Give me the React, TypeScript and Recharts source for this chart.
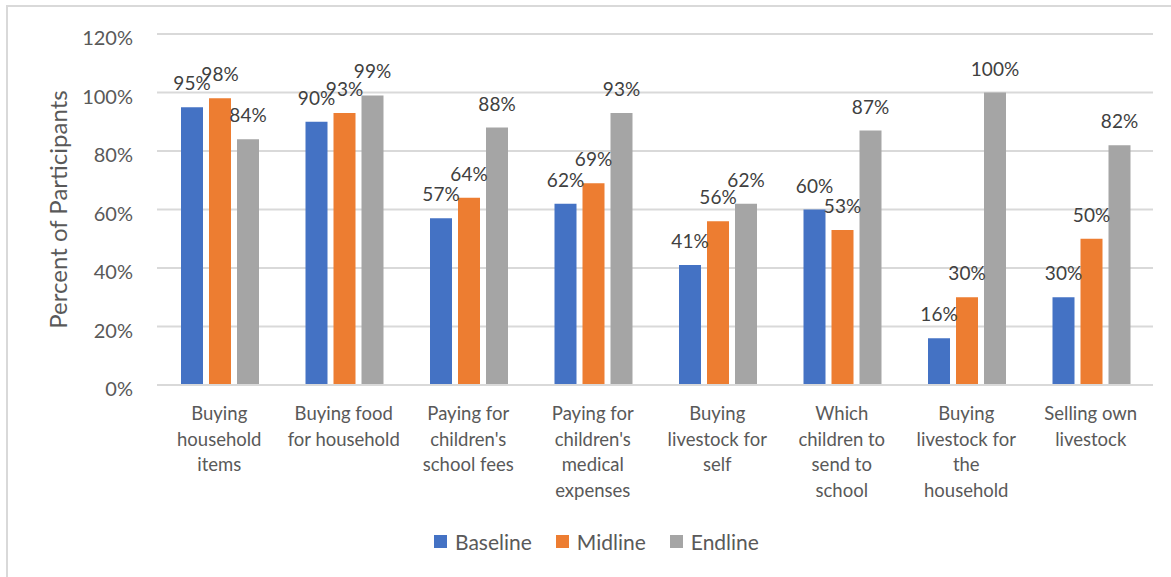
import { BarChart, Bar, XAxis, YAxis, CartesianGrid, LabelList } from 'recharts';

// Entscheidungsbereiche (Zeilenumbrüche wie in der Achsenbeschriftung)
const categories = [
  'Buying\nhousehold\nitems',
  'Buying food\nfor household',
  "Paying for\nchildren's\nschool fees",
  "Paying for\nchildren's\nmedical\nexpenses",
  'Buying\nlivestock for\nself',
  'Which\nchildren to\nsend to\nschool',
  'Buying\nlivestock for\nthe\nhousehold',
  'Selling own\nlivestock',
];

// Anteil der Teilnehmenden in %
const baseline = [95, 90, 57, 62, 41, 60, 16, 30];
const midline = [98, 93, 64, 69, 56, 53, 30, 50];
const endline = [84, 99, 88, 93, 62, 87, 100, 82];

const yTicks = [0, 20, 40, 60, 80, 100, 120];

const series = [
  { key: 'Baseline', color: '#4472C4' },
  { key: 'Midline', color: '#ED7D31' },
  { key: 'Endline', color: '#A5A5A5' },
];

const data = categories.map((name, i) => ({
  name,
  Baseline: baseline[i],
  Midline: midline[i],
  Endline: endline[i],
}));

const FONT = 'Lato, "Open Sans", sans-serif';
const TEXT = '#595959';

const CategoryTick = ({ x, y, payload }: any) => {
  const lines = String(payload.value).split('\n');
  return (
    <text x={x} y={y} textAnchor="middle" fill={TEXT} fontSize={18.5} fontFamily={FONT}>
      {lines.map((line, i) => (
        <tspan key={i} x={x} y={y + 35 + i * 25.5}>
          {line}
        </tspan>
      ))}
    </text>
  );
};

const AxisTitle = ({ viewBox }: any) => {
  const cx = 57;
  const cy = viewBox.y + viewBox.height / 2;
  return (
    <text
      x={cx}
      y={cy}
      transform={`rotate(-90, ${cx}, ${cy})`}
      textAnchor="middle"
      dominantBaseline="central"
      fill={TEXT}
      fontSize={24}
      fontFamily={FONT}
    >
      Percent of Participants
    </text>
  );
};

export default function App() {
  return (
    <div style={{ position: 'absolute', left: 0, top: 0, width: 1171, height: 577, background: '#fff', overflow: 'hidden' }}>
      {/* Rahmen des Diagrammbereichs, nur links und oben sichtbar */}
      <div
        style={{
          position: 'absolute',
          left: 6,
          top: 5,
          width: 1300,
          height: 700,
          borderLeft: '2px solid #d9d9d9',
          borderTop: '2px solid #d9d9d9',
        }}
      />
      <BarChart
        width={1171}
        height={577}
        data={data}
        margin={{ top: 34, right: 18, left: 0, bottom: 132 }}
        barCategoryGap={24}
        barGap={6}
        style={{ position: 'absolute', left: 0, top: 0 }}
      >
        <CartesianGrid vertical={false} stroke="#d9d9d9" strokeWidth={2} />
        <XAxis
          dataKey="name"
          interval={0}
          height={60}
          axisLine={{ stroke: '#d9d9d9', strokeWidth: 2 }}
          tickLine={false}
          tickSize={0}
          tickMargin={0}
          tick={<CategoryTick />}
        />
        <YAxis
          width={157}
          domain={[0, 120]}
          ticks={yTicks}
          axisLine={false}
          tickLine={false}
          tickSize={0}
          tickMargin={24}
          tickFormatter={(v: number) => `${v}%`}
          tick={{ fill: TEXT, fontSize: 20, fontFamily: FONT, dy: 4 }}
          label={{ content: <AxisTitle /> }}
        />
        {series.map((s) => (
          <Bar key={s.key} dataKey={s.key} fill={s.color} isAnimationActive={false}>
            <LabelList
              dataKey={s.key}
              position="top"
              offset={17}
              formatter={(v: any) => `${v}%`}
              fill="#404040"
              fontSize={19}
              fontFamily={FONT}
            />
          </Bar>
        ))}
      </BarChart>
      {/* Legende */}
      <div
        style={{
          position: 'absolute',
          left: 434,
          top: 529,
          display: 'flex',
          alignItems: 'center',
          gap: 24,
          fontFamily: FONT,
          fontSize: 21,
          color: TEXT,
        }}
      >
        {series.map((s) => (
          <div key={s.key} style={{ display: 'flex', alignItems: 'center', gap: 8 }}>
            <span style={{ width: 13, height: 13, background: s.color, display: 'inline-block' }} />
            <span>{s.key}</span>
          </div>
        ))}
      </div>
    </div>
  );
}
